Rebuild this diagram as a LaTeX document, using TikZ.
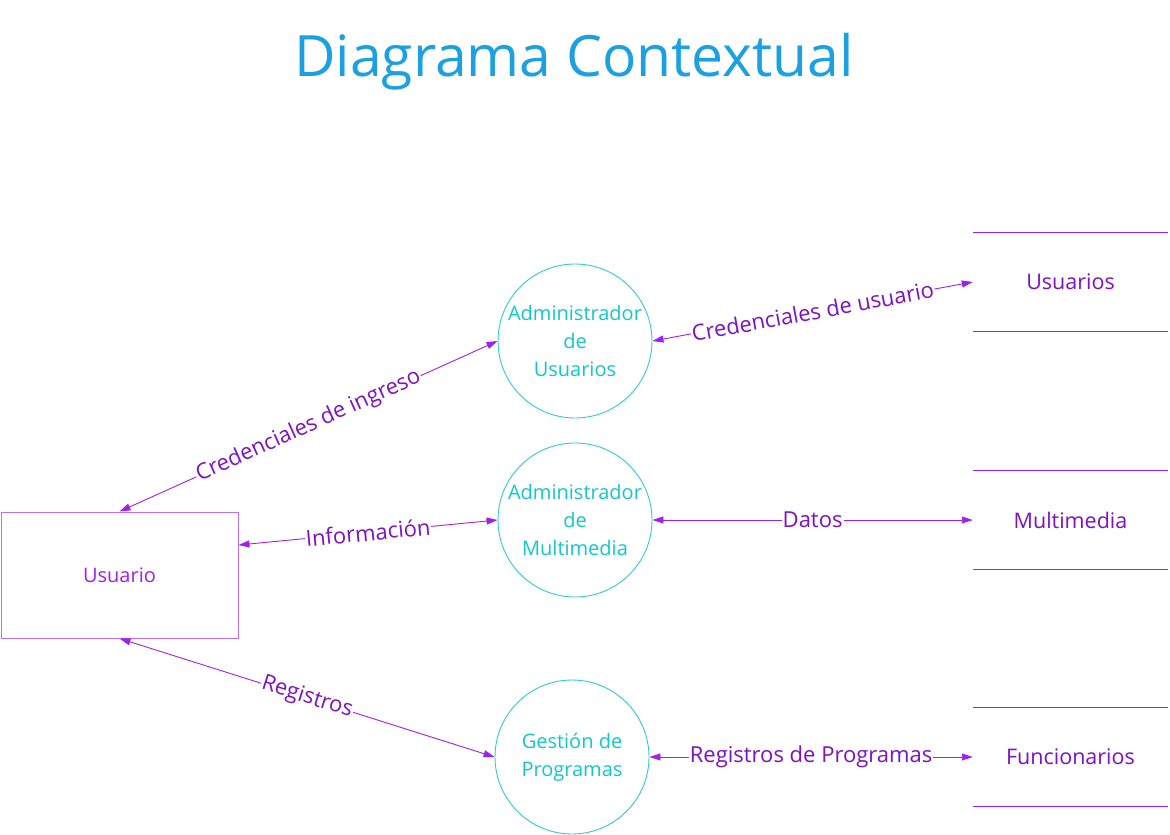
\documentclass[tikz,border=0pt]{standalone}
\usepackage{fontspec}
\setmainfont{Open Sans}
\usetikzlibrary{arrows.meta}
\definecolor{titleblue}{HTML}{1BA1E2}
\definecolor{linepurple}{HTML}{A020F0}
\definecolor{labelpurple}{HTML}{7E10C8}
\definecolor{boxpurple}{HTML}{C070F8}
\definecolor{circcyan}{HTML}{30CCCC}
\definecolor{circtext}{HTML}{10C8CC}
\tikzset{
  procnode/.style={circle,draw=circcyan,line width=0.9pt,minimum size=154pt,inner sep=0pt,align=center,text=circtext,font=\fontsize{20}{28}\selectfont},
  extnode/.style={rectangle,draw=boxpurple,line width=1pt,minimum width=237pt,minimum height=126pt,inner sep=0pt,text=linepurple,font=\fontsize{20}{22}\selectfont},
  storenode/.style={rectangle,minimum width=195pt,minimum height=98pt,inner sep=0pt,text=labelpurple,font=\fontsize{21.5}{24}\selectfont},
  storeline/.style={draw=linepurple,line width=0.9pt},
  flow/.style={draw=linepurple,line width=0.9pt,{Triangle[length=11pt,width=7pt]}-{Triangle[length=11pt,width=7pt]}},
  flowlabel/.style={fill=white,inner sep=1pt,text=labelpurple,font=\fontsize{22}{24}\selectfont}
}
\begin{document}
\begin{tikzpicture}[x=1pt,y=-1pt]
\useasboundingbox (0,0) rectangle (1170,835);
\node[text=titleblue,font=\fontsize{57}{60}\selectfont] (title) at (574,62) {Diagrama Contextual};
\node[extnode] (u) at (119.5,575) {Usuario};
\node[procnode] (au) at (575,341) {Administrador\\de\\Usuarios};
\node[procnode] (am) at (575,520) {Administrador\\de\\Multimedia};
\node[procnode] (gp) at (572,757) {Gestión de\\Programas};
\node[storenode] (su) at (1070.5,282) {Usuarios};
\node[storenode] (sm) at (1070.5,520) {Multimedia};
\node[storenode] (sf) at (1070.5,757) {Funcionarios};
\foreach \s in {su,sm,sf}{
  \draw[storeline] (\s.north west) -- (\s.north east);
  \draw[storeline] (\s.south west) -- (\s.south east);
}
\draw[flow] (u.north) -- node[flowlabel,sloped] {Credenciales de ingreso} (au.west);
\draw[flow] ([yshift=30pt]u.east) -- node[flowlabel,sloped] {Información} (am.west);
\draw[flow] (u.south) -- node[flowlabel,sloped] {Registros} (gp.west);
\draw[flow] (au.east) -- node[flowlabel,sloped] {Credenciales de usuario} (su.west);
\draw[flow] (am.east) -- node[flowlabel] {Datos} (sm.west);
\draw[flow] (gp.east) -- node[flowlabel] {Registros de Programas} (sf.west);
\end{tikzpicture}
\end{document}
